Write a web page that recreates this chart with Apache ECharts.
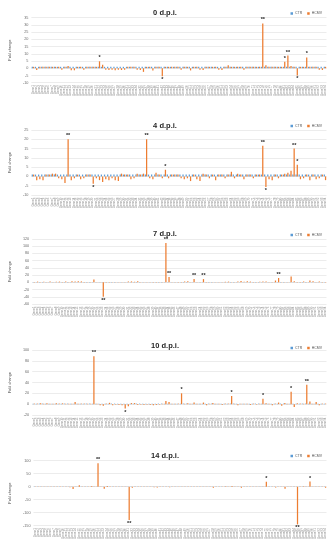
<!DOCTYPE html>
<html><head><meta charset="utf-8">
<script src="https://cdn.jsdelivr.net/npm/echarts@6/dist/echarts.min.js"></script>
<style>html,body{margin:0;padding:0;background:#fff}#c{width:330px;height:550px}</style>
</head><body><div id="c"></div>
<script>
// Category labels (unreadable in the reference; placeholders)
const genes = [
'Gene1','Gene2','Gene3','Gene4','Gene5','Gene6','Gene7','Gene8','Gene9','Gene10',
'Gene11','Gene12','Gene13','Gene14','Gene15','Gene16','Gene17','Gene18','Gene19','Gene20',
'Gene21','Gene22','Gene23','Gene24','Gene25','Gene26','Gene27','Gene28','Gene29','Gene30',
'Gene31','Gene32','Gene33','Gene34','Gene35','Gene36','Gene37','Gene38','Gene39','Gene40',
'Gene41','Gene42','Gene43','Gene44','Gene45','Gene46','Gene47','Gene48','Gene49','Gene50',
'Gene51','Gene52','Gene53','Gene54','Gene55','Gene56','Gene57','Gene58','Gene59','Gene60',
'Gene61','Gene62','Gene63','Gene64','Gene65','Gene66','Gene67','Gene68','Gene69','Gene70',
'Gene71','Gene72','Gene73','Gene74','Gene75','Gene76','Gene77','Gene78','Gene79','Gene80',
'Gene81','Gene82','Gene83','Gene84','Gene85','Gene86','Gene87','Gene88','Gene89','Gene90',
'Gene91','Gene92','Gene93','Gene94'];

const ctr = [
1,1,1,1,1,1,1,1,1,1, 1,1,1,1,1,1,1,1,1,1, 1,1,1,1,1,1,1,1,1,1,
1,1,1,1,1,1,1,1,1,1, 1,1,1,1,1,1,1,1,1,1, 1,1,1,1,1,1,1,1,1,1,
1,1,1,1,1,1,1,1,1,1, 1,1,1,1,1,1,1,1,1,1, 1,1,1,1,1,1,1,1,1,1, 1,1,1,1];

const titles = ['0 d.p.i.','4 d.p.i.','7 d.p.i.','10 d.p.i.','14 d.p.i.'];

const hcmv0 = [
1,-1.2,1,1,1,1,1,1,1,-1,
1,1.5,-1.3,-1.4,1,1,-1,1,1,1,
1,4.8,2.5,-1,-1.2,-1,-1.3,-1,-1.2,-1,
1,1,1,-1,-1.2,-2.5,1,1,-1.5,1,
1,-5.5,1,1,1,1,1,-1,1,1,
-1.5,1,1,-1,-1.2,1,1,1,1,-1,
-1.2,1,2,1,1,1,1,-1,1,1,
1,1,1,31,2,1,1,1,1,1,
4.5,8.8,1.5,1,-5,1,1,7.5,1,1,
1,-1,-1.2,1];
const stars0 = {21:'*',41:'*',73:'**',80:'*',81:'**',84:'*',87:'*'};

const hcmv1 = [
1,-2,-1.5,-2,1,1,1.5,1.5,-1,-1.5,
-3.5,20,-2,-1,1,-1.5,-1,1,1,-4,
-1,-2,-3,-1.5,-2,-1,-2,-2.5,1.5,1,
1,-1.5,-1,1.5,1,1.5,20,-1,-1.5,2,
1,-1,3.6,-1,1,1,1,-1,-1.5,-1,
-2.5,1,-1.5,-2.5,1.5,1,-1,1,-2,1,
1,-1,1,2.5,-1,1.5,1,-1.5,1,1,
-1,1,1,16.5,-5.7,-1.5,-2,1,-1,1,
1.5,2,3,15,6.3,-1.5,-1,1,-2,1,
-1.5,-1,1,-2];
const stars1 = {11:'**',19:'*',36:'**',42:'*',73:'**',74:'*',83:'**',84:'*'};

const hcmv2 = [
1,2,1,1.5,1,2,1,1.5,2,1,
2.5,1,3,2,3,2.5,1,1,1,8,
1,1,-40,1,1,1,1,1,1,1,
2,2.5,1.5,3,1,1,1,1,1,1,
1,1,109,15,1,1,1,1,2,3,
1,9,1,1,9,1,1,1,1,1,
1,1.5,2,1,1,2.5,4,1.5,3,2,
1,1,1.5,2,2,1,1,5,12,1,
1,1,16,3,1,1,2,1,5,3,
1,2,1,1];
const stars2 = {22:'**',42:'**',43:'**',51:'**',54:'**',78:'**'};

const hcmv3 = [
1,1,1.5,1,1.5,1,1,1.5,1,1.5,
1,1,1,4,1,1,1,1,1,88.6,
1,-2,-3,1,2.5,-2,-1,-1.5,-2,-8,
-4,2,2,-1.5,-1,-1.5,-1,-1.5,-2,-1.5,
-1,1,6,4,1,1,1,20,1,1.5,
1,3,1,1,3,-2,1,2,1,1,
-1.5,1,1,15,1,-2,1,1,1,-1.5,
1,-1,1,10,1.5,1,-2,1,3,-3,
2,1,23,-5,1.5,1,1,36,5,1,
4,-2,1,1];
const stars3 = {19:'**',29:'*',47:'*',63:'*',73:'*',82:'*',87:'**'};

const hcmv4 = [
1,1,1,1,1,1,1,1,1,1,
1,-2,-9,1,6,1,1,1,3,1,
90,1,-8,3,1,1,1,1,1,1,
-128,-4,1,1,1,1,1,1,-2,-3,
1,1,1,-2,1,-1,1,1,1,1,
1,1,1,1,1,1,1,-4,1,1,
1,2,1,3,1,1,-4,1,1,1,
1,1,1,1,19,1,1,-3,1,1,
-8,1,1,1,-145,1,2,1,20,1,
1,1,1,-4];
const stars4 = {20:'**',30:'**',74:'*',84:'**',88:'*'};

const yMins = [-10,-10,-60,-20,-150];
const yMaxs = [35,25,120,100,100];
const ySteps = [5,5,20,20,50];

const hcmvAll = [hcmv0,hcmv1,hcmv2,hcmv3,hcmv4];
const starsAll = [stars0,stars1,stars2,stars3,stars4];

// layout (pixels)
const gridTops = [17.7,130,239,350,460.7];
const gridH = 65;
const titleYs = [4,116.5,224.5,336.5,446.5];
const legendYs = [11.5,124,233,346,454];
const FONT = 'Liberation Sans';

const chart = echarts.init(document.getElementById('c'), null, {renderer:'canvas'});
const grid=[],xAxis=[],yAxis=[],series=[],title=[],legend=[];
for (let i=0;i<5;i++){
  grid.push({left:19,right:3.5,top:gridTops[i],height:gridH,containLabel:false});
  title.push({text:titles[i],left:'center',top:titleYs[i],
    textStyle:{fontFamily:FONT,fontSize:7.5,fontWeight:'bold',color:'#262626'}});
  legend.push({data:['CTR','HCMV'],right:8,top:legendYs[i],itemWidth:2.5,itemHeight:2.5,itemGap:5,
    icon:'rect',textStyle:{fontFamily:FONT,fontSize:3.5,color:'#595959',padding:[0,0,0,-3]},padding:0});
  xAxis.push({type:'category',gridIndex:i,data:genes,
    axisLine:{show:false,onZero:false},axisTick:{show:false},
    axisLabel:{interval:0,rotate:90,fontSize:3,fontFamily:FONT,color:'#8c8c8c',margin:2.5}});
  yAxis.push({type:'value',gridIndex:i,min:yMins[i],max:yMaxs[i],interval:ySteps[i],
    name:'Fold change',nameLocation:'middle',nameGap:12,nameRotate:90,
    nameTextStyle:{fontFamily:FONT,fontSize:3.8,color:'#404040'},
    axisLine:{show:false},axisTick:{show:false},
    axisLabel:{fontSize:3.8,fontFamily:FONT,color:'#6e6e6e',margin:3},
    splitLine:{lineStyle:{color:'#d9d9d9',width:0.5}}});
  series.push({name:'CTR',type:'bar',xAxisIndex:i,yAxisIndex:i,data:ctr,
    itemStyle:{color:'#5B9BD5'},barGap:'0%',barCategoryGap:'20%',animation:false});
  const st = starsAll[i];
  series.push({name:'HCMV',type:'bar',xAxisIndex:i,yAxisIndex:i,data:hcmvAll[i],
    itemStyle:{color:'#ED7D31'},animation:false,
    label:{show:true,position:'outside',distance:0.5,fontSize:5.5,fontWeight:'bold',fontFamily:FONT,color:'#262626',
      formatter:p=>st[p.dataIndex]||''}});
}
chart.setOption({backgroundColor:'#fff',animation:false,title,legend,grid,xAxis,yAxis,series});
</script></body></html>
